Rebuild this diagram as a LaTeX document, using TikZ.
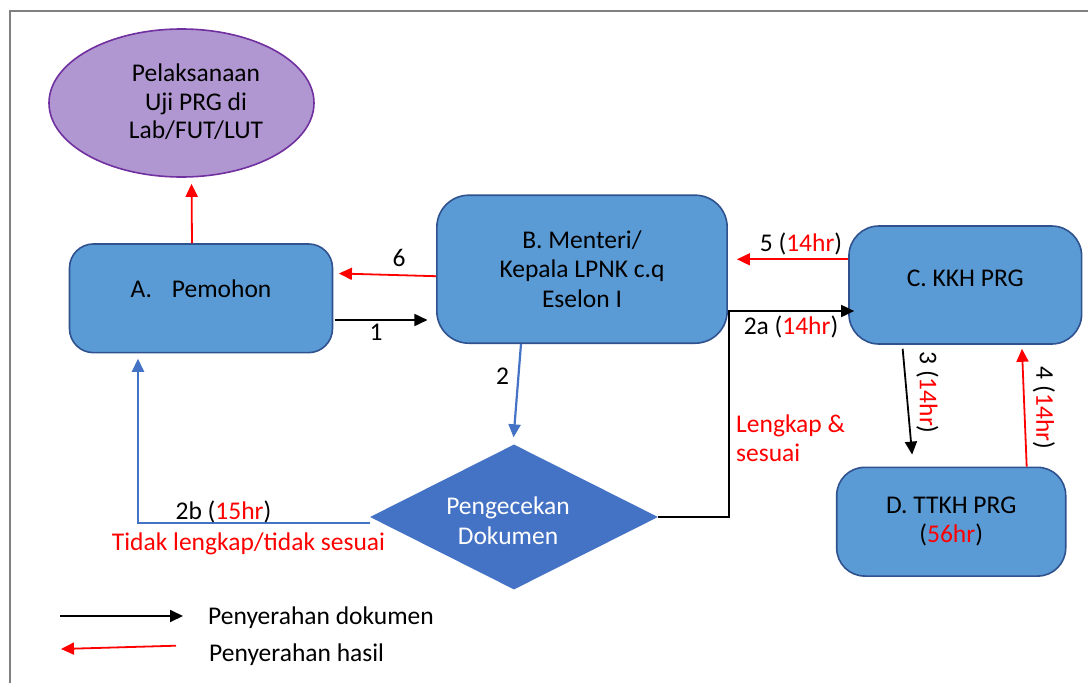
\documentclass[tikz,border=0pt]{standalone}
\usepackage{fontspec}
\setmainfont{Carlito}
\usetikzlibrary{arrows.meta,shapes.geometric}
\definecolor{boxfill}{RGB}{91,155,213}
\definecolor{boxline}{RGB}{47,82,143}
\definecolor{diafill}{RGB}{68,114,196}
\definecolor{flowblue}{RGB}{68,114,196}
\definecolor{ovalfill}{RGB}{177,151,209}
\definecolor{ovalline}{RGB}{112,48,160}
\definecolor{hred}{RGB}{255,0,0}
\definecolor{framegray}{RGB}{128,128,128}
\newcommand{\hr}[1]{\textcolor{hred}{#1}}
\begin{document}
\begin{tikzpicture}[x=1pt,y=-1pt,
  every node/.style={font=\fontsize{25.5}{29.5}\selectfont, inner sep=0pt},
  stepbox/.style={draw=boxline, fill=boxfill, line width=1.6pt, rounded corners=28pt},
  oval/.style={ellipse, draw=ovalline, fill=ovalfill, line width=1.6pt},
  check/.style={diamond, shape aspect=2, fill=diafill},
  tipshape/.style={-{Triangle[length=13pt,width=12pt]}},
  docarrow/.style={draw=black, line width=1.8pt, tipshape},
  resarrow/.style={draw=hred, line width=1.8pt, tipshape},
  chkarrow/.style={draw=flowblue, line width=2.2pt, tipshape},
  lbl/.style={anchor=base}]
\useasboundingbox (0,0) rectangle (1088,683);
\fill[white] (0,0) rectangle (1088,683);
\draw[framegray, line width=2pt] (10,683) -- (10,11) -- (1088,11);

% process nodes
\node[oval, minimum width=265pt, minimum height=148pt] (E) at (181.5,103) {};
\node[anchor=north, align=center, font=\fontsize{25.5}{28.5}\selectfont] (Et) at (196,64)
  {Pelaksanaan\\Uji PRG di\\Lab/FUT/LUT};
\node[stepbox, rounded corners=24pt, minimum width=263pt, minimum height=108.7pt, text depth=20pt]
  (A) at (201,298.3) {A.\hspace{20pt}Pemohon};
\node[stepbox, rounded corners=32pt, minimum width=290.3pt, minimum height=148pt, align=center]
  (B) at (582,269.2) {B. Menteri/\\Kepala LPNK c.q\\Eselon I};
\node[stepbox, rounded corners=30pt, minimum width=232.7pt, minimum height=118pt, text depth=14pt]
  (C) at (965.3,285) {C. KKH PRG};
\node[stepbox, rounded corners=28pt, minimum width=229pt, minimum height=108.7pt, align=center]
  (D) at (951.2,521.7) {D. TTKH PRG\\(\hr{56hr})};
\node[check, minimum width=288pt, minimum height=145pt] (Dia) at (514,517) {};
\node[anchor=north, align=center, text=white] (Dt) at (508,497) {Pengecekan\\Dokumen};

% connectors
\draw[resarrow, shorten >=6pt] ([xshift=-9pt]A.north) -- ([xshift=10pt]E.south);
\draw[resarrow, shorten >=5.6pt] ([yshift=-7pt]B.west) -- ([yshift=25pt]A.east);
\draw[docarrow, shorten <=1.3pt, shorten >=8.6pt] ([yshift=-21.7pt]A.east) -- ([yshift=-50.8pt]B.west);
\draw[chkarrow, shorten >=7pt] ([xshift=-61pt]B.south) -- ([xshift=-1pt]Dia.north);
\coordinate (k2a) at ([xshift=1pt,yshift=-41.8pt]B.east);
\draw[docarrow, shorten >=-6pt] (Dia.east) -| (k2a) -- (k2a -| C.west);
\coordinate (k5) at ([yshift=25.7pt]C.west);
\draw[resarrow, shorten >=9pt] (k5) -- (k5 -| B.east);
\draw[docarrow, shorten <=4pt, shorten >=12pt] ([xshift=-63pt]C.south) -- ([xshift=-38pt]D.north);
\draw[resarrow, shorten >=4pt] ([xshift=75.5pt]D.north) -- ([xshift=56.5pt]C.south);
\draw[chkarrow, shorten >=5.3pt] ([yshift=-6pt]Dia.west) -| ([xshift=-63pt]A.south);

% connector labels
\node[lbl] (n6) at (399,266.7) {6};
\node[lbl] (n1) at (376,340) {1};
\node[lbl] (n2) at (502.5,384) {2};
\node[lbl] (n2a) at (791,334.5) {2a (\hr{14hr})};
\node[lbl] (n5) at (801,251.7) {5 (\hr{14hr})};
\node[anchor=north west, align=left, text=hred] (ok) at (736,414.5) {Lengkap \&\\sesuai};
\node[rotate=-90] (n3) at (927.5,392.5) {3 (\hr{14hr})};
\node[rotate=-90] (n4) at (1044,408) {4 (\hr{14hr})};
\node[lbl] (n2b) at (223.5,519.5) {2b (\hr{15hr})};
\node[lbl, text=hred] (nok) at (248.5,550.7) {Tidak lengkap/tidak sesuai};

% legend
\coordinate (lg1s) at (60,616);
\coordinate (lg1e) at (183,616);
\draw[docarrow] (lg1s) -- (lg1e);
\coordinate (lg2s) at (176,645.7);
\coordinate (lg2e) at (61,649);
\draw[resarrow] (lg2s) -- (lg2e);
\node[anchor=base west] (lgt1) at (208,624) {Penyerahan dokumen};
\node[anchor=base west] (lgt2) at (209,661) {Penyerahan hasil};
\end{tikzpicture}
\end{document}
